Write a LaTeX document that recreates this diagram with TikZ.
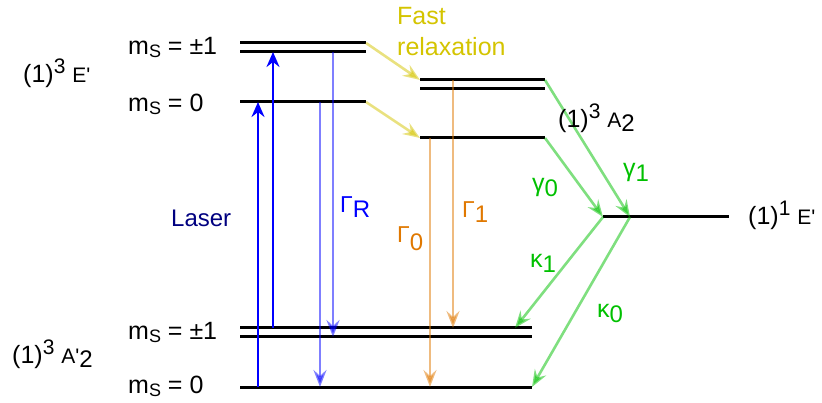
\documentclass[tikz,border=0pt]{standalone}
\usepackage{fontspec}
\setmainfont{Liberation Sans}
\usetikzlibrary{arrows.meta}
\definecolor{laserblue}{RGB}{0,0,255}
\definecolor{lasernavy}{RGB}{0,0,128}
\definecolor{fastyel}{RGB}{212,196,0}
\definecolor{radorange}{RGB}{224,120,0}
\definecolor{iscgreen}{RGB}{0,192,0}
\newcommand{\lsub}[2][5]{\raisebox{-#1pt}{\fontsize{24}{24}\selectfont #2}}
\newcommand{\msub}{\raisebox{-3pt}{\fontsize{18}{18}\selectfont S}}
\newcommand{\lsup}[1]{\raisebox{9pt}{\fontsize{21}{21}\selectfont #1}}
\newcommand{\sml}[1]{{\fontsize{21}{21}\selectfont #1}}
\newcommand{\gcap}[1]{{\fontsize{23}{23}\selectfont #1}}
\newcommand{\gbig}[1]{{\fontsize{25}{25}\selectfont #1}}
\newcommand{\pr}{\textquotesingle}

\begin{document}
\begin{tikzpicture}[x=1pt,y=-1pt,
    level/.style={line width=3pt},
    laser/.style={-{Stealth[length=15pt,width=13pt,inset=5pt]},line width=2.7pt,laserblue},
    decay/.style={-{Stealth[length=17pt,width=13pt,inset=6pt]},line width=2.6pt,opacity=0.5},
    lbl/.style={anchor=base west,inner sep=0pt,font=\fontsize{25}{30}\selectfont}]
  \useasboundingbox (0,0) rectangle (822,403);

  % energy levels
  \draw[level] (240,43) coordinate (eA) -- (366,43) coordinate (eAr);
  \draw[level] (240,52) coordinate (eB) -- (366,52) coordinate (eBr);
  \draw[level] (240,102) coordinate (eZ) -- (366,102) coordinate (eZr);
  \draw[level] (420,80) coordinate (rA) -- (545,80) coordinate (rAr);
  \draw[level] (420,89) coordinate (rB) -- (545,89) coordinate (rBr);
  \draw[level] (420,138) coordinate (rZ) -- (545,138) coordinate (rZr);
  \draw[level] (603,217) coordinate (sg) -- (729,217) coordinate (sgr);
  \draw[level] (240,328) coordinate (gA) -- (532,328) coordinate (gAr);
  \draw[level] (240,337) coordinate (gB) -- (532,337) coordinate (gBr);
  \draw[level] (240,387) coordinate (gZ) -- (532,387) coordinate (gZr);
  \coordinate (sg1) at (630,217);
  \coordinate (gk1) at (515,328);

  % x positions of the vertical arrows
  \coordinate (las0) at (258,0);
  \coordinate (las1) at (273,0);
  \coordinate (rad0) at (320,0);
  \coordinate (rad1) at (333,0);
  \coordinate (or0) at (430,0);
  \coordinate (or1) at (453,0);

  \draw[laser] (las0 |- gZ) -- (las0 |- eZ);
  \draw[laser] (las1 |- gA) -- (las1 |- eB);
  \draw[decay,laserblue] (rad0 |- eZ) -- (rad0 |- gZ);
  \draw[decay,laserblue] (rad1 |- eB) -- (rad1 |- gB);
  \draw[decay,radorange] (or0 |- rZ) -- (or0 |- gZ);
  \draw[decay,radorange] (or1 |- rA) -- (or1 |- gA);
  \draw[decay,fastyel] (eAr) -- (rA);
  \draw[decay,fastyel] (eZr) -- (rZ);
  \draw[decay,iscgreen] (rAr) -- (sg1);
  \draw[decay,iscgreen] (rZr) -- (sg);
  \draw[decay,iscgreen] (sg) -- (gk1);
  \draw[decay,iscgreen] (sg1) -- (gZr);

  % labels
  \node[lbl] (exc) at (23,83) {(1)\lsup{3} \sml{E\pr}};
  \node[lbl] (excpm) at (128,55) {m\msub{} = ±1};
  \node[lbl] (exczero) at (128,112) {m\msub{} = 0};
  \node[lbl,text=fastyel] (fast) at (397,25) {Fast};
  \node[lbl,text=fastyel] (relax) at (397,56) {relaxation};
  \node[lbl] (sha) at (558,128) {(1)\lsup{3} \sml{A}\lsub[4]{2}};
  \node[lbl] (sing) at (748,225) {(1)\lsup{1} \sml{E\pr}};
  \node[lbl] (gnd) at (12,363) {(1)\lsup{3} \sml{A\pr}\lsub[4]{2}};
  \node[lbl] (gndpm) at (128,339) {m\msub{} = ±1};
  \node[lbl] (gndzero) at (128,393) {m\msub{} = 0};
  \node[lbl,text=lasernavy,font=\fontsize{24}{28}\selectfont] (laser) at (171,227) {Laser};
  \node[lbl,text=laserblue] (gamR) at (340,213) {\gcap{Γ}\lsub{R}};
  \node[lbl,text=radorange] (gam0) at (397,243) {\gcap{Γ}\lsub[8]{0}};
  \node[lbl,text=radorange] (gam1) at (462,218) {\gcap{Γ}\lsub{1}};
  \node[lbl,text=iscgreen] (isc0) at (532,192) {\gbig{γ}\lsub{0}};
  \node[lbl,text=iscgreen] (isc1) at (623,177) {\gbig{γ}\lsub{1}};
  \node[lbl,text=iscgreen] (kap1) at (530,268) {\gbig{κ}\lsub{1}};
  \node[lbl,text=iscgreen] (kap0) at (597,318) {\gbig{κ}\lsub{0}};
\end{tikzpicture}
\end{document}
